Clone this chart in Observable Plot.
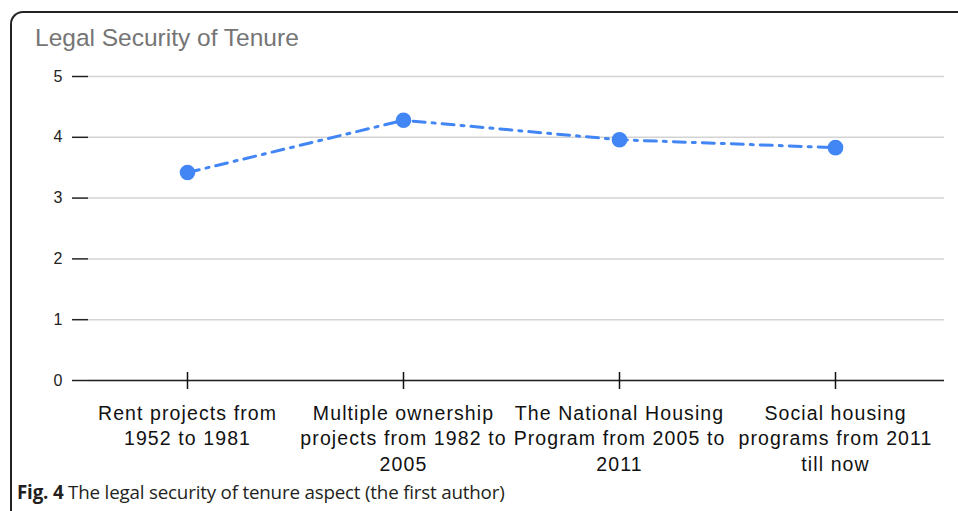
<!DOCTYPE html>
<html>
<head>
<meta charset="utf-8">
<script src="https://cdn.jsdelivr.net/npm/d3@7"></script>
<script src="https://cdn.jsdelivr.net/npm/@observablehq/plot@0.6"></script>
<style>
  html, body { margin: 0; padding: 0; background: #fff; overflow: hidden; }
  body { width: 958px; height: 511px; position: relative; }
  #frame { position: absolute; left: 10px; top: 11px; width: 1000px; height: 600px;
    border-left: 2px solid #222; border-top: 2px solid #222; border-top-left-radius: 13px; box-sizing: border-box; }
  #chart { position: absolute; left: 0; top: 0; }
  #chart svg text { font-family: "Liberation Sans", Arial, sans-serif; }
  #chart g[aria-label="x-axis tick label"] text { letter-spacing: 1.1px; }
  #title { position: absolute; left: 35px; top: 25px; font-family: "Liberation Sans", Arial, sans-serif;
    font-size: 24.5px; line-height: 25px; color: #757575; white-space: nowrap; }
  #caption { position: absolute; left: 17px; top: 483px; font-family: "Open Sans", sans-serif;
    font-size: 18.8px; line-height: 19px; color: #231f20; white-space: nowrap; letter-spacing: -0.2px; }
</style>
</head>
<body>
<div id="frame"></div>
<div id="chart"></div>
<div id="title">Legal Security of Tenure</div>
<div id="caption"><b>Fig. 4</b> The legal security of tenure aspect (the first author)</div>
<script>
const categories = [
  "Rent projects from 1952 to 1981",
  "Multiple ownership projects from 1982 to 2005",
  "The National Housing Program from 2005 to 2011",
  "Social housing programs from 2011 till now"
];
const tickLabels = [
  "Rent projects from\n1952 to 1981",
  "Multiple ownership\nprojects from 1982 to\n2005",
  "The National Housing\nProgram from 2005 to\n2011",
  "Social housing\nprograms from 2011\ntill now"
];
const values = [3.42, 4.28, 3.96, 3.83];
const yTicks = [0, 1, 2, 3, 4, 5];

const data = categories.map((c, i) => ({category: c, value: values[i]}));
const font = "'Liberation Sans', Arial, sans-serif";

const chart = Plot.plot({
  width: 958,
  height: 478,
  marginTop: 76,
  marginBottom: 98,
  marginLeft: 88,
  marginRight: 14,
  style: {fontFamily: font, background: "transparent", overflow: "visible"},
  x: {type: "point", domain: categories, range: [79, 943], padding: 0.5},
  y: {domain: [0, 5], range: [380, 76]},
  marks: [
    Plot.gridY(yTicks, {stroke: "#d3d3d3", strokeOpacity: 1, strokeWidth: 1.5}),
    Plot.ruleY([0], {stroke: "#222", strokeWidth: 1.5}),
    Plot.axisY(yTicks, {tickSize: 16, tickPadding: 10, fontSize: 16, fontFamily: font, color: "#222", label: null,
      strokeWidth: 1.5, tickFormat: d3.format("d")}),
    Plot.axisX(categories, {
      tickSize: 17, dy: -8, tickPadding: 12, fontSize: 19.5, fontFamily: font, lineHeight: 1.31, color: "#111",
      label: null, strokeWidth: 1.5,
      tickFormat: d => tickLabels[categories.indexOf(d)]
    }),
    Plot.line(data, {x: "category", y: "value", stroke: "#4285F4", strokeWidth: 3, strokeDasharray: "12,7,3,7"}),
    Plot.dot(data, {x: "category", y: "value", r: 7.8, fill: "#4285F4", stroke: "none"})
  ]
});
document.getElementById("chart").appendChild(chart);
</script>
</body>
</html>
